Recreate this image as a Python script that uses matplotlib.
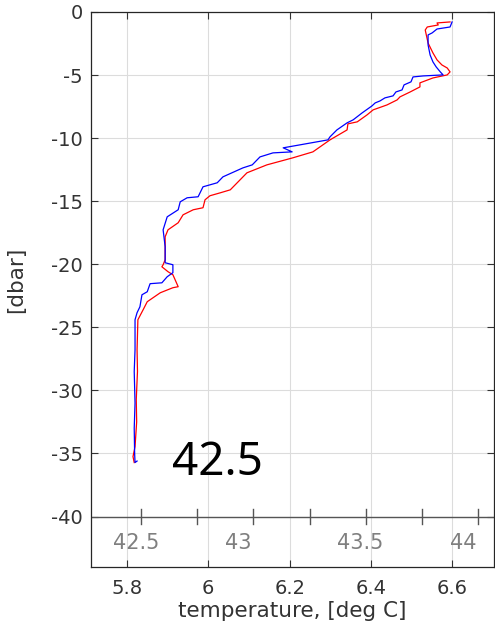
import numpy as np
import matplotlib
matplotlib.use("Agg")
import matplotlib.pyplot as plt

plt.rcParams['font.family'] = ['DejaVu Sans']
plt.rcParams['axes.unicode_minus'] = False

# profile 1 (red)
temp_red = [6.594, 6.562, 6.565, 6.538, 6.533, 6.540, 6.552, 6.562, 6.574, 6.587,
            6.594, 6.587, 6.552, 6.520, 6.520, 6.496, 6.471, 6.464, 6.439, 6.405,
            6.390, 6.366, 6.343, 6.341, 6.299, 6.257, 6.208, 6.144, 6.095, 6.078,
            6.054, 6.029, 6.004, 5.992, 5.987, 5.963, 5.938, 5.926, 5.901, 5.894,
            5.894, 5.894, 5.889, 5.886, 5.901, 5.913, 5.926, 5.913, 5.882, 5.850,
            5.840, 5.827, 5.825, 5.826, 5.823, 5.824, 5.820, 5.815, 5.818]
pres_red = [-0.79, -0.87, -1.03, -1.19, -1.43, -2.46, -3.25, -3.80, -4.20, -4.44,
            -4.75, -4.99, -5.23, -5.62, -5.94, -6.34, -6.73, -6.97, -7.37, -7.76,
            -8.16, -8.71, -8.87, -9.35, -10.14, -11.09, -11.56, -12.12, -12.75, -13.31,
            -14.10, -14.34, -14.57, -14.89, -15.52, -15.68, -16.08, -16.71, -17.27, -17.82,
            -18.61, -19.64, -20.04, -20.20, -20.59, -20.83, -21.78, -21.86, -22.26, -22.97,
            -23.60, -24.40, -26.77, -28.5, -30.73, -32.5, -34.46, -35.25, -35.72]

# profile 2 (blue)
temp_blue = [6.599, 6.594, 6.562, 6.550, 6.540, 6.540, 6.545, 6.552, 6.560, 6.570,
             6.577, 6.528, 6.503, 6.498, 6.481, 6.476, 6.461, 6.454, 6.434, 6.422,
             6.410, 6.402, 6.378, 6.356, 6.341, 6.316, 6.299, 6.294, 6.226, 6.184,
             6.206, 6.159, 6.127, 6.108, 6.085, 6.036, 6.022, 5.987, 5.975, 5.948,
             5.931, 5.926, 5.899, 5.889, 5.894, 5.894, 5.913, 5.913, 5.899, 5.886,
             5.857, 5.850, 5.837, 5.832, 5.825, 5.820, 5.820, 5.818, 5.820, 5.818,
             5.819, 5.820, 5.825]
pres_blue = [-0.79, -1.19, -1.35, -1.66, -1.82, -2.61, -3.41, -3.96, -4.36, -4.75,
             -4.99, -5.07, -5.15, -5.54, -5.78, -6.18, -6.34, -6.65, -6.81, -7.05,
             -7.21, -7.45, -8.00, -8.55, -8.79, -9.35, -9.90, -10.14, -10.53, -10.77,
             -11.09, -11.17, -11.49, -12.12, -12.36, -13.07, -13.54, -13.86, -14.65, -14.73,
             -15.05, -15.68, -16.24, -17.27, -18.61, -19.88, -20.04, -20.67, -20.99, -21.47,
             -21.54, -22.18, -22.42, -23.37, -23.84, -24.40, -26.77, -28.5, -31.0, -33.0,
             -35.0, -35.72, -35.6]

x_ticks = [5.8, 6.0, 6.2, 6.4, 6.6]
x_ticklabels = ['5.8', '6', '6.2', '6.4', '6.6']
y_ticks = [0, -5, -10, -15, -20, -25, -30, -35, -40]

# secondary scale drawn along p = -40
sec_ticks = [42.5, 42.75, 43.0, 43.25, 43.5, 43.75, 44.0]
sec_labels = ['42.5', '43', '43.5', '44']
sec_label_vals = [42.5, 43.0, 43.5, 44.0]
note_text = '42.5'

fig = plt.figure(figsize=(4.95, 6.3), dpi=100)
ax = fig.add_axes([0.184, 0.1, 0.814, 0.881])

ax.plot(temp_red, pres_red, color='#ff0000', lw=0.9)
ax.plot(temp_blue, pres_blue, color='#0000ff', lw=0.9)

ax.set_xlim(5.712, 6.702)
ax.set_ylim(-44, 0)
ax.set_xticks(x_ticks)
ax.set_xticklabels(x_ticklabels)
ax.set_yticks(y_ticks)
ax.grid(True, color='#dcdcdc', lw=0.8)
ax.set_axisbelow(True)
ax.tick_params(direction='in', length=5, top=True, right=True,
               labelsize=14, colors='#333333', pad=6)
ax.tick_params(axis='x', pad=9)
for s in ax.spines.values():
    s.set_color('#262626')
    s.set_linewidth(0.9)
ax.set_xlabel('temperature, [deg C]', fontsize=15.5, color='#333333', labelpad=2)
ax.set_ylabel('[dbar]', fontsize=15.5, color='#333333')
ax.yaxis.set_label_coords(-0.16, 0.517)

# secondary axis line with its ticks
def sec_to_temp(v):
    return 5.835 + (v - 42.5) * 0.552

ax.axhline(-40, color='#555555', lw=1.0)
for v in sec_ticks:
    xv = sec_to_temp(v)
    ax.plot([xv, xv], [-40.63, -39.37], color='#555555', lw=1.0)
for v, lab in zip(sec_label_vals, sec_labels):
    ax.annotate(lab, (sec_to_temp(v), -42.1), xytext=(-20.5, 0),
                textcoords='offset points', ha='left', va='center',
                fontsize=15, color='#7f7f7f')

ax.text(6.023, -36.67, note_text, fontsize=33, family='Noto Sans',
        ha='center', va='baseline', color='black')

fig.savefig('out.png', dpi=100)
